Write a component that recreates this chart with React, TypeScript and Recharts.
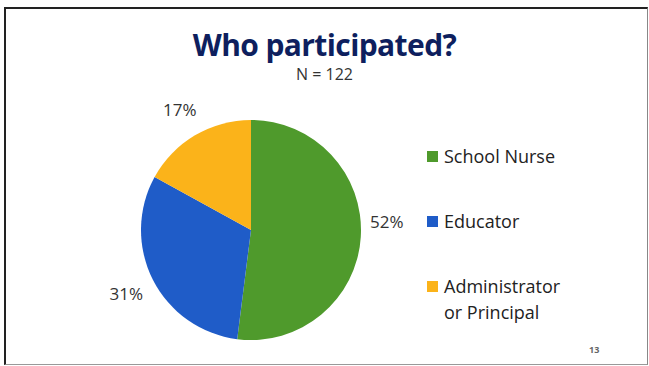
import { PieChart, Pie, Cell, Legend } from "recharts";

const roles = ["School Nurse", "Educator", "Administrator or Principal"];
const shares = [52, 31, 17];
const colors = ["#4f9a2c", "#1f5cc8", "#fbb31a"];

const data = roles.map((name, i) => ({ name, value: shares[i] }));

const FONT = "'Open Sans', 'Liberation Sans', sans-serif";
const RAD = Math.PI / 180;

function renderLabel(props: any) {
  const { cx, cy, midAngle, outerRadius, value } = props;
  const r = outerRadius + 30;
  const x = cx + r * Math.cos(-midAngle * RAD);
  let y = cy + r * Math.sin(-midAngle * RAD);
  // labels next to the horizontal sit a little higher in the slide
  if (Math.abs(midAngle) < 20) y -= 17;
  return (
    <text x={x - (Math.abs(midAngle) < 20 ? 4 : 0)} y={y} textAnchor="middle" dominantBaseline="central" fill="#333" fontSize={17} fontFamily={FONT}>
      {value}%
    </text>
  );
}

function renderLegend() {
  return (
    <div style={{ fontFamily: FONT, fontSize: 18, color: "#222" }}>
      {roles.map((name, i) => (
        <div key={name} style={{ display: "flex", alignItems: "flex-start", height: 65 }}>
          <span style={{ width: 11, height: 11, background: colors[i], marginTop: 8, marginRight: 6, flexShrink: 0 }} />
          <span style={{ width: 128, lineHeight: "26px" }}>{name}</span>
        </div>
      ))}
    </div>
  );
}

export default function App() {
  return (
    <div style={{ position: "absolute", left: 0, top: 0, width: 649, height: 366, background: "#fff", overflow: "hidden" }}>
      <style>{"body{margin:0}"}</style>
      <div
        style={{
          position: "absolute",
          left: 4,
          top: 7,
          width: 641,
          height: 355,
          borderTop: "2px solid #222",
          borderLeft: "2px solid #222",
          borderRight: "1px solid #888",
          borderBottom: "1px solid #999",
        }}
      />
      <div style={{ position: "absolute", left: 0, width: 649, top: 24, textAlign: "center", fontFamily: FONT, fontWeight: 700, fontSize: 30, color: "#0e1f5e", letterSpacing: -0.6 }}>
        Who participated?
      </div>
      <div style={{ position: "absolute", left: 0, width: 649, top: 63, textAlign: "center", fontFamily: FONT, fontSize: 16, color: "#333" }}>
        N = 122
      </div>
      <div style={{ position: "absolute", left: 0, top: 0 }}>
        <PieChart width={649} height={366} margin={{ top: 0, right: 0, bottom: 0, left: 0 }}>
          <Pie
            data={data}
            dataKey="value"
            nameKey="name"
            cx={251}
            cy={230}
            outerRadius={110}
            startAngle={90}
            endAngle={-270}
            stroke="none"
            label={renderLabel}
            labelLine={false}
            isAnimationActive={false}
          >
            {data.map((d, i) => (
              <Cell key={d.name} fill={colors[i]} />
            ))}
          </Pie>
          <Legend content={renderLegend} layout="vertical" wrapperStyle={{ left: 427, top: 143, width: 190 }} />
        </PieChart>
      </div>
      <div style={{ position: "absolute", left: 589, top: 343, fontFamily: FONT, fontSize: 9, fontWeight: 700, color: "#666" }}>13</div>
    </div>
  );
}
